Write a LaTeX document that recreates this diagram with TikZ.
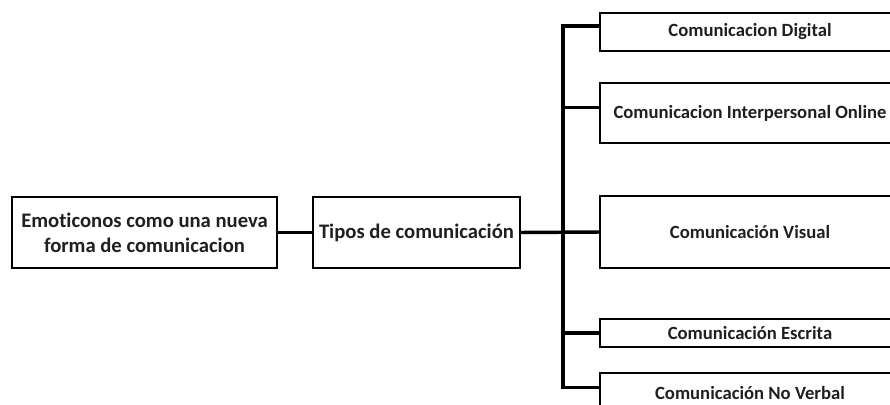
\documentclass[tikz,border=0pt]{standalone}
\usepackage{fontspec}
\setmainfont{Carlito}[Ligatures=NoCommon]
\usepackage{tikz}
\usetikzlibrary{calc}

\begin{document}
\begin{tikzpicture}[x=0.75pt,y=-0.75pt]
	\tikzset{
		box/.style={draw,line width=1.4pt,inner sep=0pt,align=center,text=black!88,font=\bfseries\fontsize{15.5}{19}\selectfont},
		subbox/.style={box,minimum width=225pt,font=\bfseries\fontsize{14}{17}\selectfont},
		conn/.style={line width=2.6pt}
	}
	\useasboundingbox (0,0) rectangle (890,404);
	\clip (0,0) rectangle (890,404);
	
	\node[box,minimum width=198.75pt,minimum height=53.25pt] (emo) at (144.5,232.5) {Emoticonos como una nueva\\forma de comunicacion};
	\node[box,minimum width=155.25pt,minimum height=53.25pt] (tipos) at (416.5,232.5) {Tipos de comunicación};
	
	\node[subbox,minimum height=28.5pt] (dig) at (750,32) {Comunicacion Digital};
	\node[subbox,minimum height=45pt] (inter) at (750,113) {Comunicacion Interpersonal Online};
	\node[subbox,minimum height=54pt] (vis) at (750,232) {Comunicación Visual};
	\node[subbox,minimum height=21pt] (esc) at (750,333) {Comunicación Escrita};
	\node[subbox,minimum height=30pt] (nov) at (750,393) {Comunicación No Verbal};
	
	\coordinate (ttop) at (563,26);
	\coordinate (tbot) at (563,388);
	\coordinate (c1) at ([yshift=4.5pt]dig.west);
	\coordinate (c2) at ([yshift=4pt]inter.west);
	\coordinate (c5) at ([yshift=4pt]nov.west);
	
	\draw[conn] (emo.east) -- (tipos.west);
	\draw[conn] (tipos.east) -- (vis.west);
	\draw[conn] (c1) -- (c1 -| ttop) -- (c5 -| ttop) -- (c5);
	\draw[conn] (c2) -- (c2 -| ttop);
	\draw[conn] (esc.west) -- (esc.west -| ttop);
	
\end{tikzpicture}
\end{document}
